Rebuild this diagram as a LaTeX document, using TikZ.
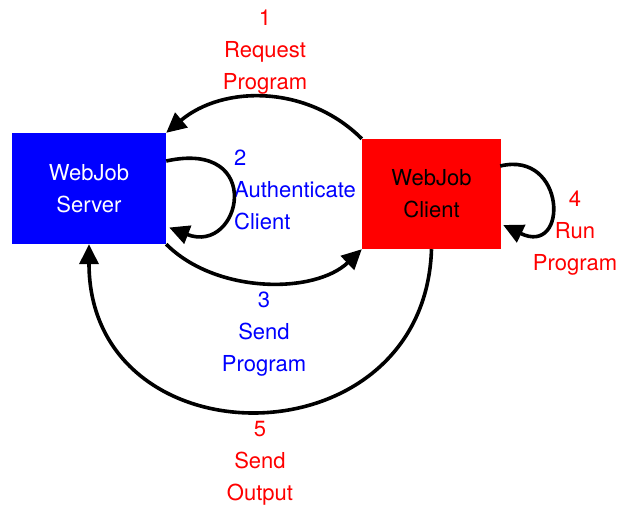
\documentclass[tikz,border=0pt]{standalone}
\usepackage{fontspec}
\setmainfont{TeX Gyre Heros}
\usepackage{tikz}
\usetikzlibrary{arrows.meta}
\definecolor{jobred}{HTML}{FF0000}
\definecolor{jobblue}{HTML}{0000FF}

\begin{document}
\begin{tikzpicture}[x=1pt,y=-1pt,>={Triangle[length=20pt,width=19pt]},
    font=\fontsize{22}{32}\selectfont,
    flow/.style={->,line width=3.6pt},
    box/.style={inner sep=0pt,align=center},
    steplabel/.style={inner sep=0pt,align=center}]
  \useasboundingbox (0,0) rectangle (628,507);
  % the two parties
  \node[box,fill=jobblue,text=white,minimum width=154pt,minimum height=111pt]
    (server) at (89,188.5) {WebJob\\Server};
  \node[box,fill=jobred,minimum width=139pt,minimum height=110pt]
    (client) at (431.5,194) {WebJob\\Client};
  % numbered steps
  \node[steplabel,text=jobred] (request) at (265,52.5) {1\\Request\\Program};
  \node[steplabel,text=jobblue,align=left,anchor=west] (auth) at (234,190)
    {2\\Authenticate\\Client};
  \node[steplabel,text=jobblue] (send) at (264,334.5) {3\\Send\\Program};
  \node[steplabel,text=jobred] (run) at (575,233.5) {4\\Run\\Program};
  \node[steplabel,text=jobred] (output) at (260,463.5) {5\\Send\\Output};
  % message flow
  \draw[flow] (client.north west) .. controls +(-54,-54) and +(57,-48) .. (server.north east);
  \draw[flow] ([shift={(0,-27.5)}]server.east) .. controls +(100,-22) and +(72,28)
    .. ([shift={(3,39)}]server.east);
  \draw[flow] (server.south east) .. controls +(50,50) and +(-47,45) .. (client.south west);
  \draw[flow] ([shift={(-1,-28)}]client.east) .. controls +(66,-16) and +(66,32)
    .. ([shift={(2,31)}]client.east);
  \draw[flow] (client.south) .. controls +(-7,216) and +(0,221) .. (server.south);
\end{tikzpicture}
\end{document}
